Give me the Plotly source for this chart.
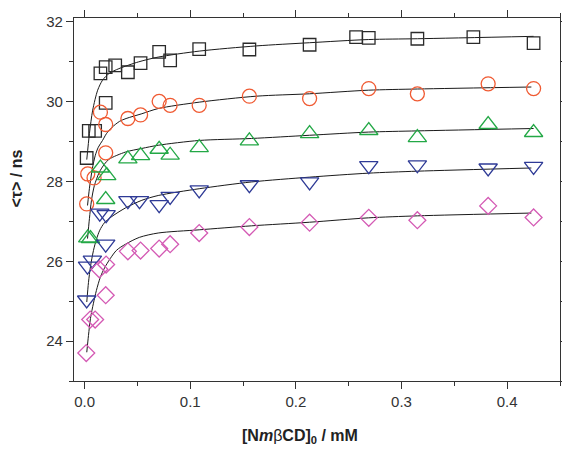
import plotly.graph_objects as go

# ---------------- data ----------------
sq_x = [0.002, 0.004, 0.010, 0.015, 0.020, 0.020, 0.029, 0.041, 0.053, 0.0706, 0.081, 0.1085, 0.156, 0.213, 0.257, 0.269, 0.315, 0.368, 0.425]
sq_y = [28.59, 29.27, 29.27, 30.71, 30.87, 29.97, 30.91, 30.74, 30.97, 31.25, 31.04, 31.32, 31.31, 31.43, 31.62, 31.60, 31.58, 31.62, 31.47]

ci_x = [0.002, 0.003, 0.009, 0.015, 0.020, 0.020, 0.041, 0.053, 0.0706, 0.081, 0.1085, 0.156, 0.213, 0.269, 0.315, 0.382, 0.425]
ci_y = [27.44, 28.19, 28.09, 29.74, 29.43, 28.72, 29.58, 29.67, 30.01, 29.91, 29.91, 30.14, 30.08, 30.33, 30.20, 30.45, 30.33]

tu_x = [0.003, 0.0056, 0.015, 0.021, 0.020, 0.041, 0.053, 0.0706, 0.081, 0.1085, 0.156, 0.213, 0.269, 0.315, 0.382, 0.425]
tu_y = [26.59, 26.57, 28.34, 28.15, 27.55, 28.57, 28.65, 28.81, 28.66, 28.85, 29.02, 29.20, 29.28, 29.10, 29.43, 29.23]

td_x = [0.002, 0.0028, 0.0074, 0.020, 0.0144, 0.0204, 0.041, 0.052, 0.0706, 0.081, 0.1085, 0.156, 0.213, 0.269, 0.315, 0.382, 0.425]
td_y = [25.03, 25.88, 26.03, 26.43, 27.21, 27.17, 27.52, 27.52, 27.42, 27.63, 27.79, 27.92, 27.99, 28.40, 28.42, 28.34, 28.38]

di_x = [0.0016, 0.0053, 0.010, 0.020, 0.014, 0.0204, 0.041, 0.053, 0.0706, 0.081, 0.1085, 0.156, 0.213, 0.269, 0.315, 0.382, 0.425]
di_y = [23.70, 24.54, 24.54, 25.15, 25.80, 25.92, 26.25, 26.27, 26.32, 26.43, 26.71, 26.86, 26.97, 27.09, 27.03, 27.39, 27.10]

# fitted curves
fit_sq_x = [0.0021, 0.0046, 0.0077, 0.0124, 0.0170, 0.0232, 0.0325, 0.0511, 0.0697, 0.1085, 0.1626, 0.2128, 0.2686, 0.3151, 0.425]
fit_sq_y = [28.55, 29.20, 29.79, 30.29, 30.54, 30.71, 30.83, 31.00, 31.12, 31.27, 31.40, 31.48, 31.56, 31.58, 31.64]

fit_ci_x = [0.0028, 0.0046, 0.0074, 0.0102, 0.0130, 0.0170, 0.0207, 0.0260, 0.0332, 0.0393, 0.0542, 0.0697, 0.1085, 0.1626, 0.2128, 0.2686, 0.3151, 0.4229]
fit_ci_y = [27.40, 27.83, 28.33, 28.66, 28.86, 29.03, 29.20, 29.36, 29.51, 29.58, 29.70, 29.83, 29.99, 30.14, 30.20, 30.29, 30.32, 30.37]

fit_tu_x = [0.0028, 0.0046, 0.0065, 0.0093, 0.0139, 0.0186, 0.0232, 0.0388, 0.0542, 0.0697, 0.1085, 0.158, 0.2128, 0.2686, 0.3151, 0.425]
fit_tu_y = [26.57, 27.07, 27.52, 27.90, 28.23, 28.43, 28.56, 28.74, 28.83, 28.91, 29.03, 29.08, 29.16, 29.24, 29.27, 29.33]

fit_td_x = [0.0021, 0.0037, 0.0056, 0.0084, 0.0112, 0.0144, 0.0186, 0.0251, 0.0388, 0.0542, 0.0697, 0.1085, 0.158, 0.2128, 0.2686, 0.3151, 0.4229]
fit_td_y = [24.98, 25.47, 25.87, 26.27, 26.55, 26.78, 26.96, 27.11, 27.34, 27.53, 27.65, 27.82, 27.99, 28.11, 28.21, 28.26, 28.34]

fit_di_x = [0.0021, 0.0037, 0.0056, 0.0084, 0.0112, 0.0149, 0.0192, 0.0300, 0.0388, 0.0518, 0.0697, 0.1085, 0.158, 0.2128, 0.2686, 0.3151, 0.4229]
fit_di_y = [23.72, 24.14, 24.57, 24.95, 25.27, 25.60, 25.85, 26.27, 26.43, 26.60, 26.71, 26.79, 26.89, 26.98, 27.09, 27.14, 27.21]

x_ticks = [0.0, 0.1, 0.2, 0.3, 0.4]
y_ticks = [24, 26, 28, 30, 32]

# ---------------- figure ----------------
fig = go.Figure()

fits = [(fit_sq_x, fit_sq_y), (fit_ci_x, fit_ci_y), (fit_tu_x, fit_tu_y),
        (fit_td_x, fit_td_y), (fit_di_x, fit_di_y)]
for fx, fy in fits:
    fig.add_trace(go.Scatter(x=fx, y=fy, mode="lines",
                             line=dict(color="#1a1a1a", width=1, shape="spline", smoothing=0.8),
                             hoverinfo="skip", showlegend=False))

series = [
    (sq_x, sq_y, "square-open", "#2a2a2a", 12.5),
    (ci_x, ci_y, "circle-open", "#f05a32", 14),
    (tu_x, tu_y, "triangle-up-open", "#23a846", 16),
    (td_x, td_y, "triangle-down-open", "#2e3a96", 16),
    (di_x, di_y, "diamond-open", "#d45ab4", 13),
]
for sx, sy, sym, col, sz in series:
    fig.add_trace(go.Scatter(x=sx, y=sy, mode="markers",
                             marker=dict(symbol=sym, size=sz, color=col,
                                         line=dict(color=col, width=1.3)),
                             showlegend=False))

axis_common = dict(showline=True, linecolor="#333333", linewidth=1.2, mirror="allticks",
                   ticks="outside", ticklen=7, tickwidth=1.1, tickcolor="#333333",
                   showgrid=False, zeroline=False,
                   tickfont=dict(family="Liberation Sans, Arial, sans-serif", size=15, color="#333333"))

fig.update_xaxes(range=[-0.01, 0.45], tickvals=x_ticks, tickformat=".1f",
                 minor=dict(dtick=0.05, tick0=0, ticks="outside", ticklen=4, tickcolor="#333333"),
                 **axis_common)
fig.update_yaxes(range=[23.0, 32.1], tickvals=y_ticks,
                 minor=dict(dtick=1, tick0=0, ticks="outside", ticklen=4, tickcolor="#333333"),
                 **axis_common)

# page body adds an 8 px offset; figure sized/margined so the plot lands where the reference has it
OFF = 8
L, R, T, B = 74 - OFF, 2, 17 - OFF, 70
W, H = 570 - OFF, 451 - OFF
pw, ph = W - L - R, H - T - B

fig.add_annotation(text="<b>[N<i>m</i><span style='font-weight:normal'>β</span>CD]<sub>0</sub> / mM</b>",
                   xref="paper", yref="paper", x=(304 - 74) / pw, y=-(437 - 381) / ph,
                   xanchor="center", yanchor="middle", showarrow=False,
                   font=dict(family="Liberation Sans, Arial, sans-serif", size=16, color="#222222"))
fig.add_annotation(text="<b>&lt;τ&gt; / ns</b>", textangle=-90,
                   xref="paper", yref="paper", x=(16 - 74) / pw, y=(381 - 178) / ph,
                   xanchor="center", yanchor="middle", showarrow=False,
                   font=dict(family="Liberation Sans, Arial, sans-serif", size=16, color="#222222"))

fig.update_layout(width=W, height=H, margin=dict(l=L, r=R, t=T, b=B),
                  plot_bgcolor="white", paper_bgcolor="white")

fig.write_html("out.html")
